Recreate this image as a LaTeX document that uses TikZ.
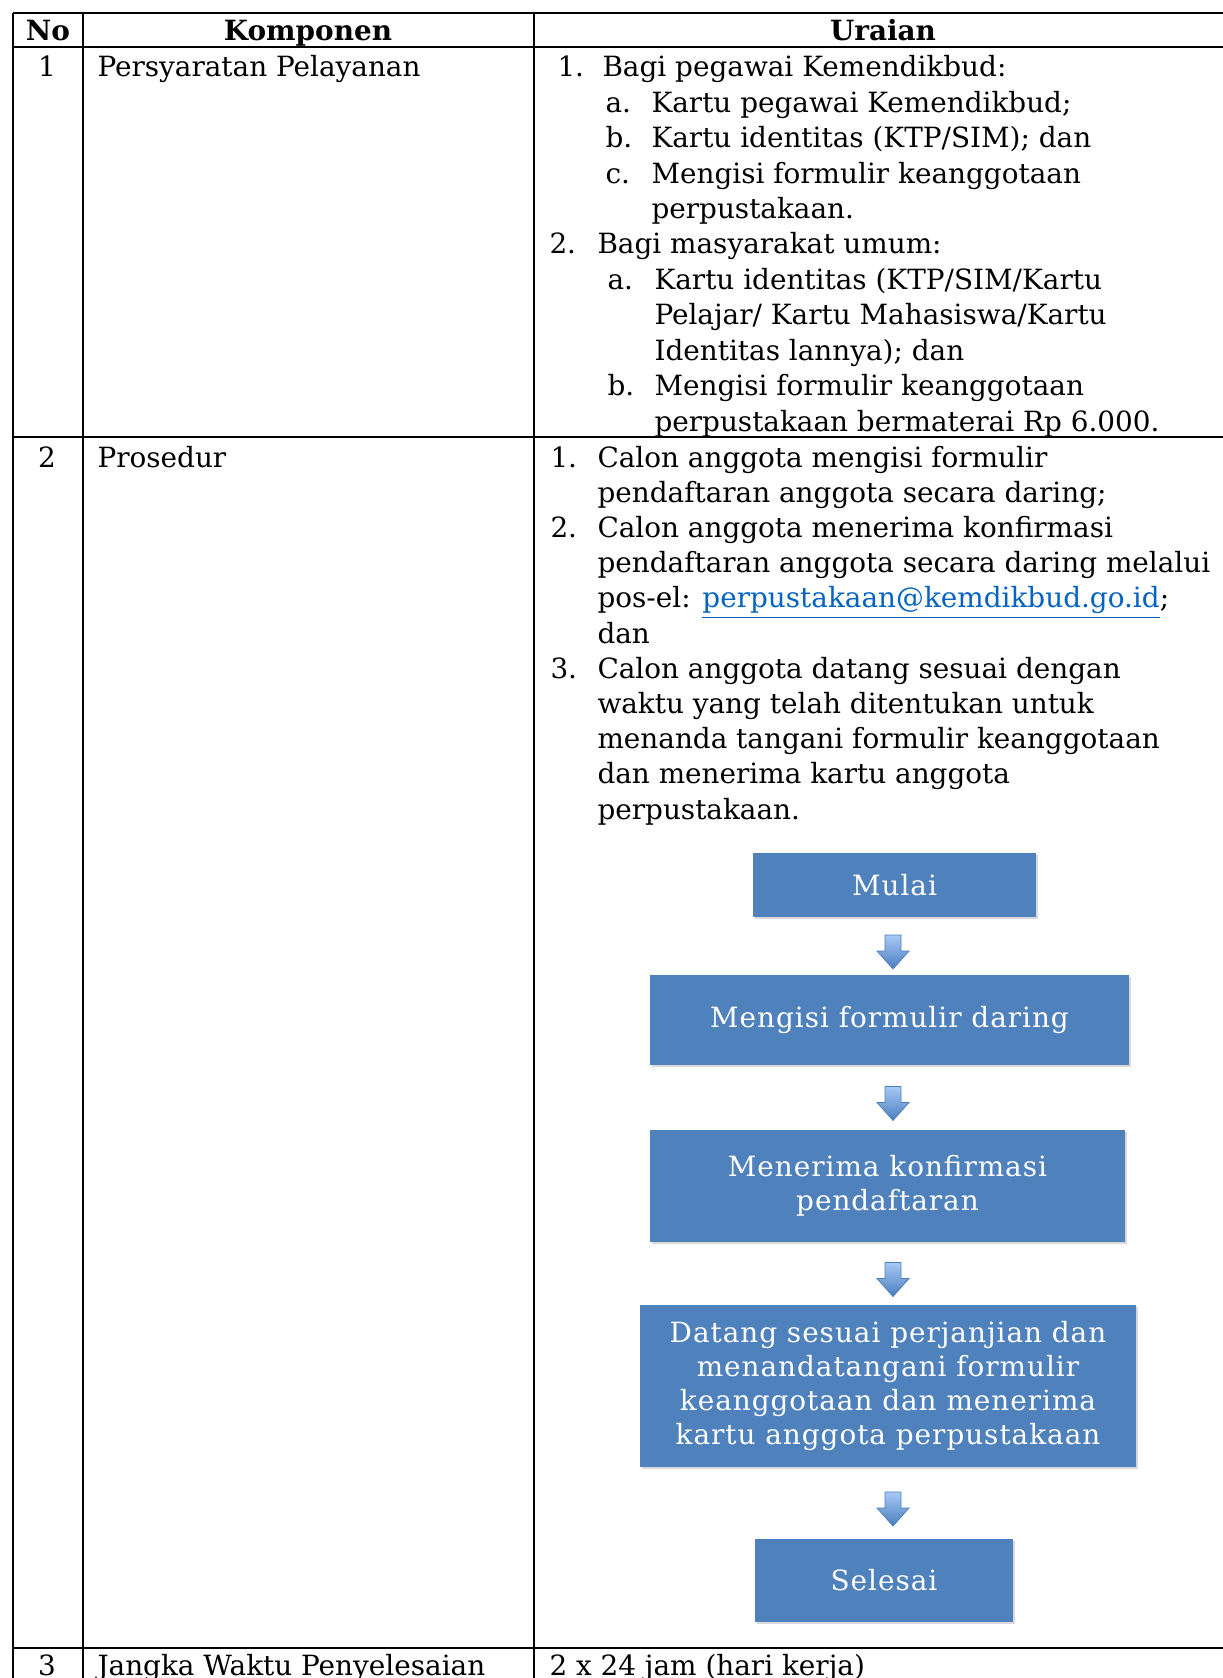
\documentclass[tikz,border=0pt]{standalone}
\usepackage{fontspec}
\setmainfont{DejaVu Serif}
\newfontfamily\boxfont[LetterSpace=3.5]{DejaVu Serif}
\usetikzlibrary{calc,shadows}
\definecolor{boxblue}{HTML}{4F81BD}
\definecolor{linkblue}{HTML}{0563C1}
\definecolor{arrowtop}{HTML}{A9C8F5}
\definecolor{arrowbot}{HTML}{4A7EBF}
\newcommand{\bodyfont}{\fontsize{11.15}{14.12}\selectfont}
\newcommand{\flowarrow}[2]{%
  \coordinate (#1-#2) at ($(#1.south)!0.5!(#2.north)$);
  \path[arrowfill] (#1-#2 -| axis) ++(-8,-11) -- ++(16,0) -- ++(0,16) -- ++(8,0)
    -- ++(-16,18) -- ++(-16,-18) -- ++(8,0) -- cycle;}
\tikzset{
  body/.style={anchor=base west, inner sep=0pt, font=\bodyfont},
  numcell/.style={anchor=base, inner sep=0pt, font=\bodyfont},
  head/.style={anchor=base, inner sep=0pt, font=\bodyfont\bfseries},
  flowbox/.style={fill=boxblue, text=white, align=center, inner sep=0pt,
    font=\boxfont\fontsize{11.15}{13.7}\selectfont,
    drop shadow={shadow xshift=0.6pt, shadow yshift=-0.9pt, opacity=0.3}},
  arrowfill/.style={top color=arrowtop, bottom color=arrowbot, draw=arrowbot, line width=0.3pt},
  grid/.style={line width=0.9pt}
}
\begin{document}
\begin{tikzpicture}[x=0.4pt,y=-0.4pt]
\useasboundingbox (0,0) rectangle (1222,1678);
% table lines
\foreach \yy in {13,47,437,1648}
  \draw[grid] (13,\yy) -- (1230,\yy);
\foreach \xx in {13,83,534}
  \draw[grid] (\xx,13) -- (\xx,1690);

% header
\node[head] (hno) at (48,41) {No};
\node[head] (hkomp) at (308,41) {Komponen};
\node[head] (hurai) at (883,41) {Uraian};

% row 1
\node[numcell] (no1) at (47,77) {1};
\node[body] (komp1) at (97,77) {Persyaratan Pelayanan};
\foreach \i/\x/\t in {0/557/1., 1/605/a., 2/605/b., 3/605/c., 5/549/2., 6/607/a., 9/607/b.}
  \node[body] (lab1-\i) at (\x,77+35.4*\i) {\t};
\foreach \i/\x/\t in {0/602/{Bagi pegawai Kemendikbud:},
    1/651/{Kartu pegawai Kemendikbud;},
    2/651/{Kartu identitas (KTP/SIM); dan},
    3/651/{Mengisi formulir keanggotaan},
    4/651/{perpustakaan.},
    5/597/{Bagi masyarakat umum:},
    6/654/{Kartu identitas (KTP/SIM/Kartu},
    7/654/{Pelajar/ Kartu Mahasiswa/Kartu},
    8/654/{Identitas lannya); dan},
    9/654/{Mengisi formulir keanggotaan},
    10/654/{perpustakaan bermaterai Rp 6.000.}}
  \node[body] (txt1-\i) at (\x,77+35.4*\i) {\t};

% row 2
\node[numcell] (no2) at (47,467) {2};
\node[body] (komp2) at (97,467) {Prosedur};
\foreach \i/\t in {0/1., 2/2., 6/3.}
  \node[body] (lab2-\i) at (550,467+35.2*\i) {\t};
\foreach \i/\t in {0/{Calon anggota mengisi formulir},
    1/{pendaftaran anggota secara daring;},
    2/{Calon anggota menerima konfirmasi},
    3/{pendaftaran anggota secara daring melalui},
    4/{pos-el: \textcolor{linkblue}{\underline{perpustakaan@kemdikbud.go.id}};},
    5/{dan},
    6/{Calon anggota datang sesuai dengan},
    7/{waktu yang telah ditentukan untuk},
    8/{menanda tangani formulir keanggotaan},
    9/{dan menerima kartu anggota},
    10/{perpustakaan.}}
  \node[body] (txt2-\i) at (597,467+35.2*\i) {\t};

% flowchart
\coordinate (axis) at (893,0);
\node[flowbox, minimum width=113.2pt, minimum height=25.6pt] (mulai) at (894.5,885) {Mulai};
\node[flowbox, minimum width=191.6pt, minimum height=36pt] (isi) at (889.5,1020) {Mengisi formulir daring};
\node[flowbox, minimum width=190pt, minimum height=44.8pt] (konf) at (887.5,1186) {Menerima konfirmasi\\pendaftaran};
\node[flowbox, minimum width=198.4pt, minimum height=64.8pt] (datang) at (888,1386)
  {Datang sesuai perjanjian dan\\menandatangani formulir\\keanggotaan dan menerima\\kartu anggota perpustakaan};
\node[flowbox, minimum width=103.2pt, minimum height=33.2pt] (selesai) at (884,1580.5) {Selesai};
\flowarrow{mulai}{isi}
\flowarrow{isi}{konf}
\flowarrow{konf}{datang}
\flowarrow{datang}{selesai}

% row 3
\node[numcell] (no3) at (47,1675) {3};
\node[body] (komp3) at (97,1675) {Jangka Waktu Penyelesaian};
\node[body] (urai3) at (549,1675) {2 x 24 jam (hari kerja)};
\end{tikzpicture}
\end{document}
